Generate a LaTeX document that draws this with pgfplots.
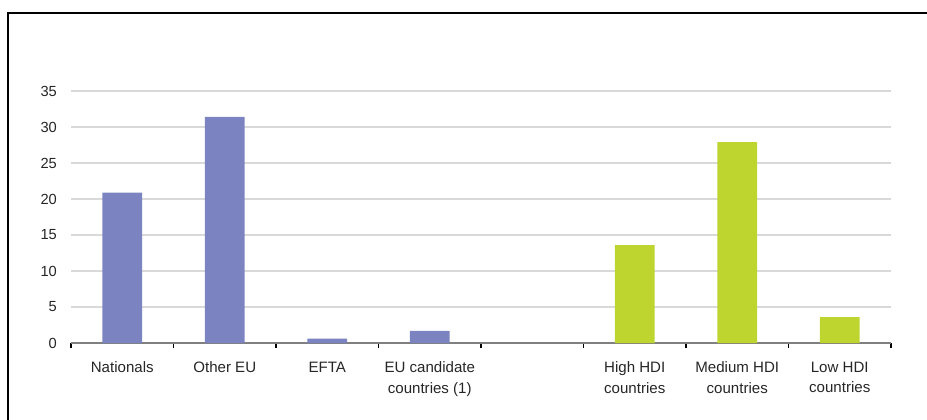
\documentclass[border=0pt]{standalone}
\usepackage{pgfplots}
\pgfplotsset{compat=1.18}
\usepackage{fontspec}
\setmainfont{Liberation Sans}
\definecolor{barblue}{HTML}{7B84C0}
\definecolor{bargreen}{HTML}{BED530}
\definecolor{gridgray}{HTML}{D9D9D9}
\definecolor{axisgray}{HTML}{808080}
\definecolor{labelgray}{HTML}{262626}
\begin{document}
\fontsize{11}{16}\selectfont
\begin{tikzpicture}
\useasboundingbox (-53.25pt,-57pt) rectangle (642pt,257.25pt);
\begin{axis}[
  at={(0,0)}, anchor=south west,
  scale only axis, width=615pt, height=189pt,
  xmin=-0.5, xmax=7.5, ymin=0, ymax=35,
  ytick={0,5,...,35},
  xtick={0,1,2,3,5,6,7},
  xticklabels={Nationals, Other EU, EFTA, {EU candidate\\countries (1)}, {High HDI\\countries}, {Medium HDI\\countries}, {Low HDI\\countries}},
  xticklabel style={align=center, font=\fontsize{11.3}{15.5}\selectfont, text=labelgray, yshift=-6pt},
  yticklabel style={font=\fontsize{11}{16}\selectfont, text=labelgray, xshift=-2.5pt},
  /pgf/number format/assume math mode=true,
  minor xtick={-0.5,0.5,...,7.5},
  major x tick style={draw=none},
  minor tick length=4pt,
  tick align=outside,
  axis x line*=bottom,
  axis y line*=left,
  y axis line style={draw=none},
  ytick style={draw=none},
  ymajorgrids,
  grid style={gridgray, line width=1.6pt},
  x axis line style={axisgray, line width=1.2pt, -},
  minor x tick style={black, line width=0.8pt},
]
\addplot[ybar, bar width=0.39, bar shift=0pt, fill=barblue, draw=none] coordinates {(0,20.9) (1,31.4) (2,0.6) (3,1.7)};
\addplot[ybar, bar width=0.39, bar shift=0pt, fill=bargreen, draw=none] coordinates {(5,13.6) (6,27.9) (7,3.6)};
\end{axis}
\draw[line width=1.5pt] (650pt,247.5pt) -- (-47.25pt,247.5pt) -- (-47.25pt,-70pt);
\end{tikzpicture}
\end{document}
